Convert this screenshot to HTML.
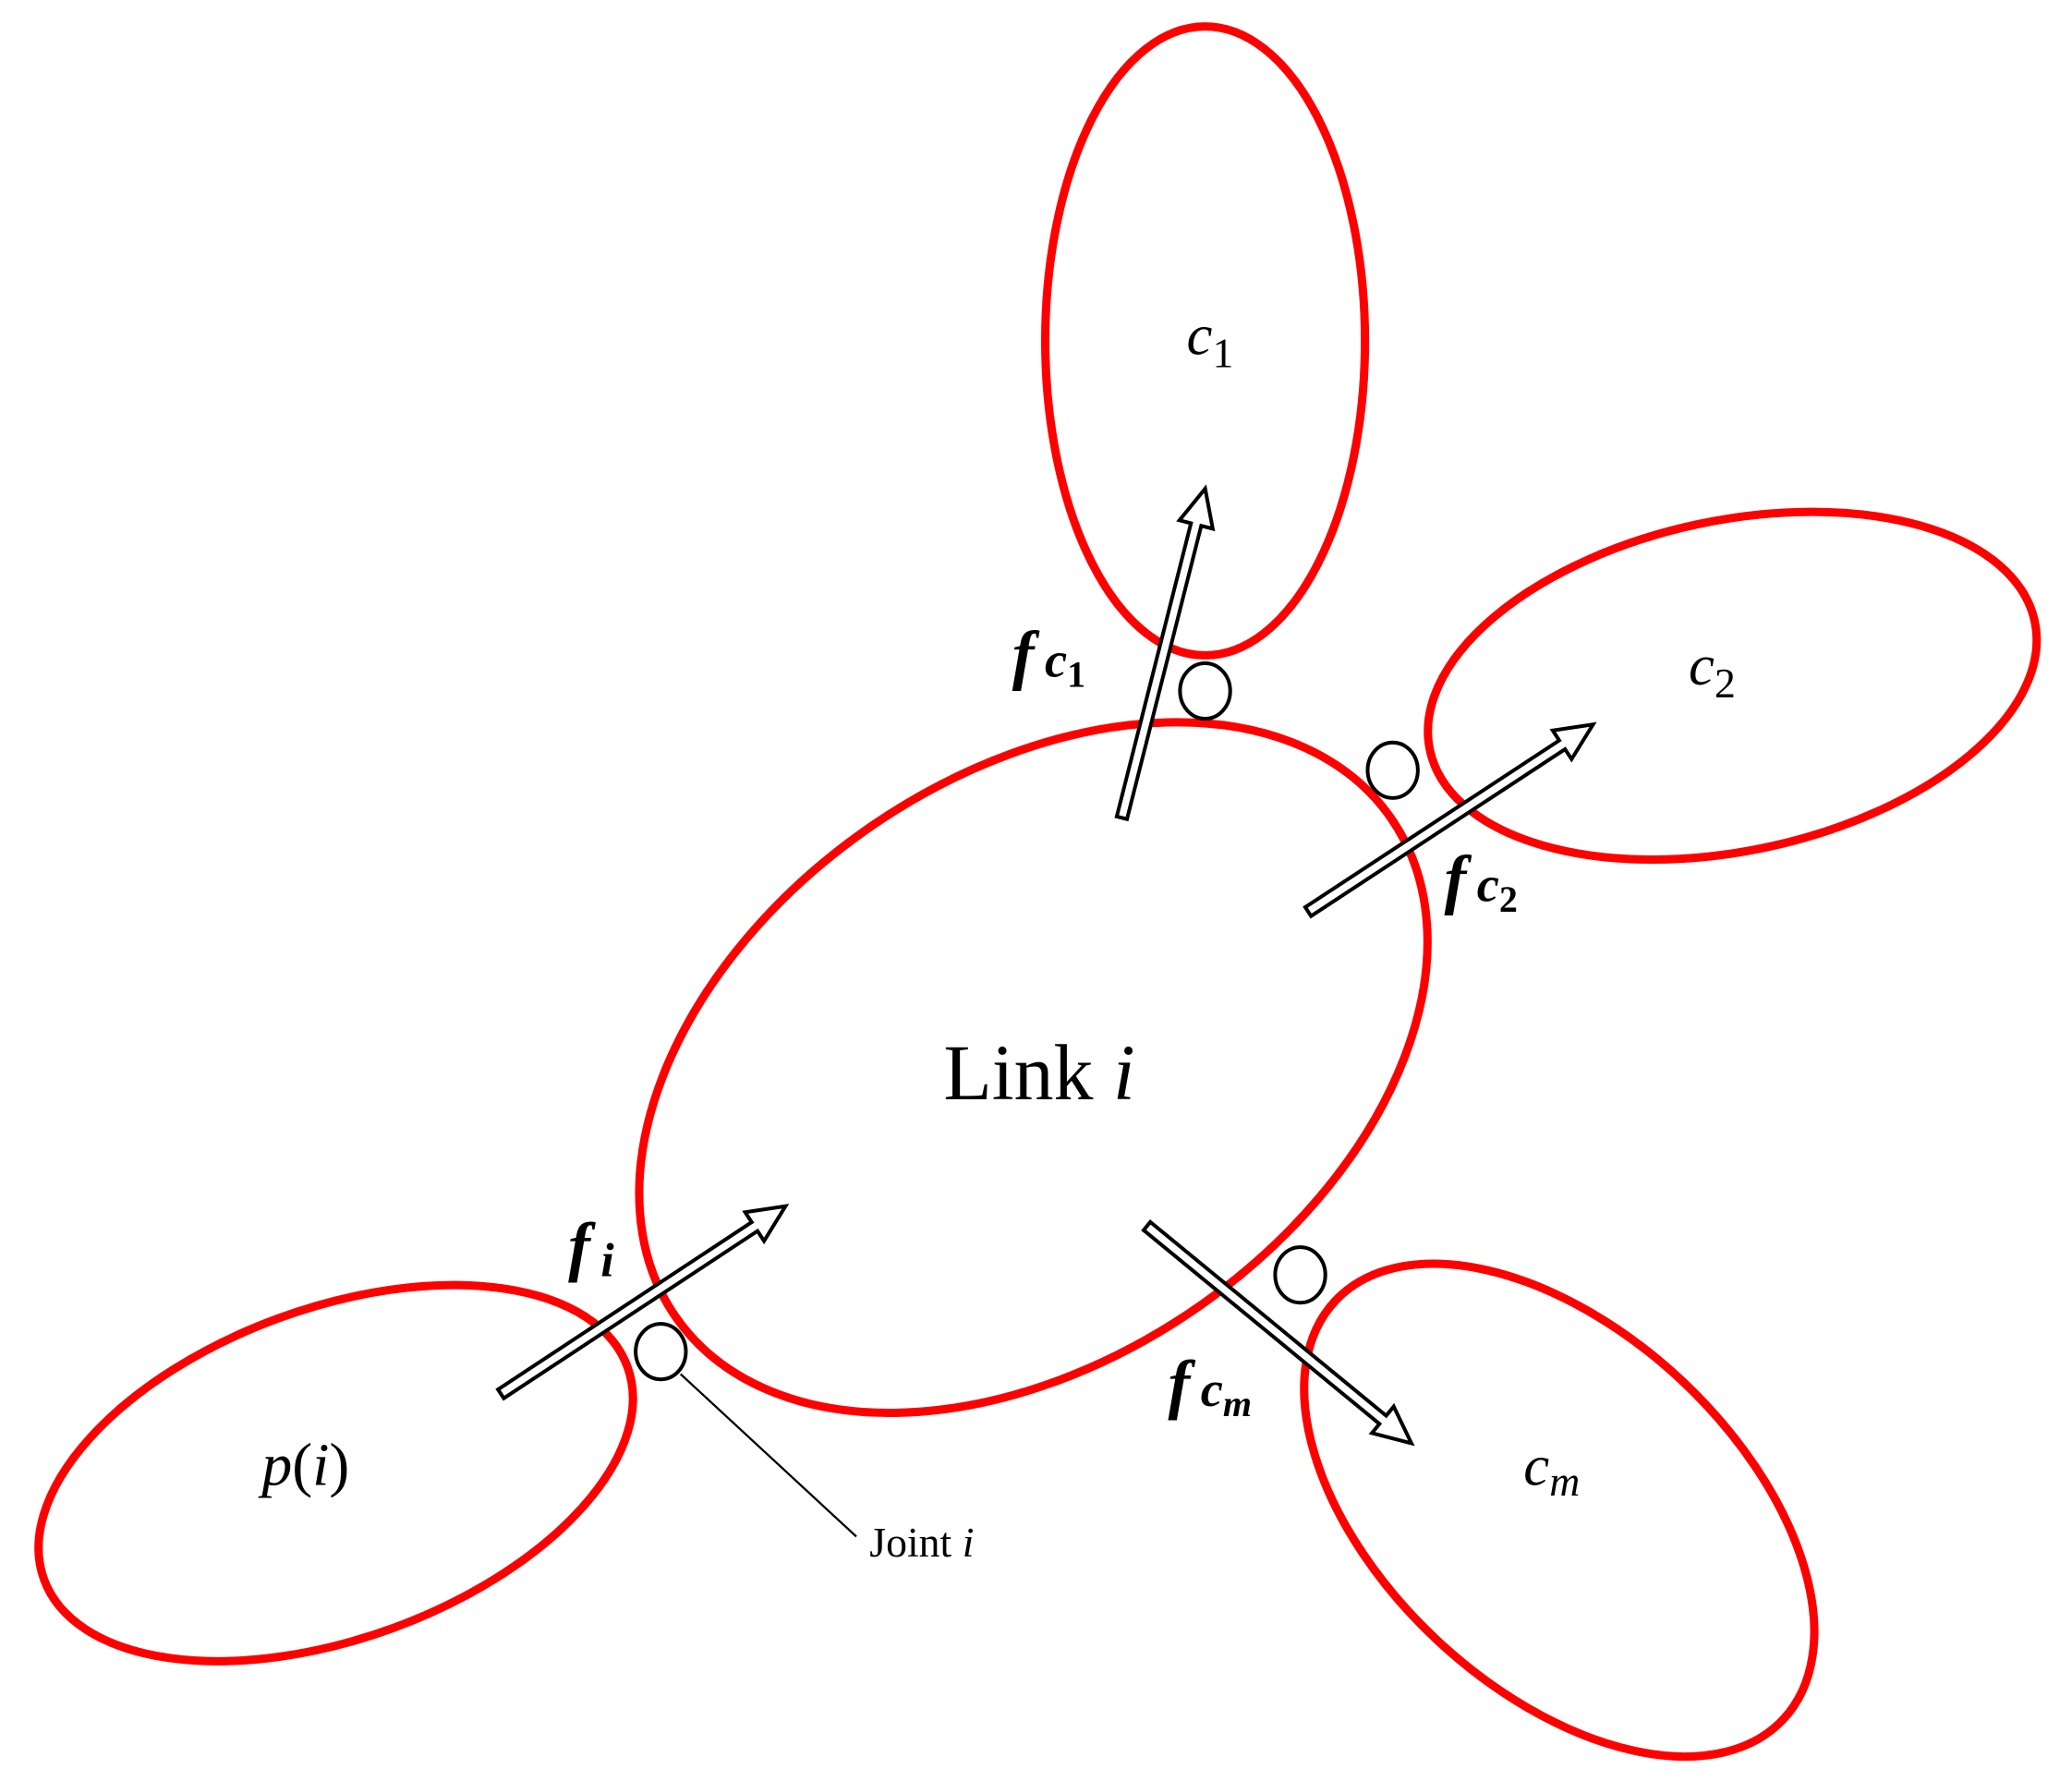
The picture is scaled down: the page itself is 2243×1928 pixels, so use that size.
<!DOCTYPE html>
<html><head><meta charset="utf-8"><style>
html,body{margin:0;padding:0;background:#fff;}
svg{display:block;}
text{font-family:"Liberation Serif","DejaVu Serif",serif;}
</style></head><body>
<svg width="2243" height="1928" viewBox="0 0 1568 1348" xmlns="http://www.w3.org/2000/svg">
<rect width="1568" height="1348" fill="#fff"/>
<g fill="none" stroke="#ff0000" stroke-width="6.3">
<ellipse cx="912" cy="258" rx="121" ry="238"/>
<ellipse cx="1311" cy="519" rx="234" ry="125" transform="rotate(-12 1311 519)"/>
<ellipse cx="782" cy="808" rx="330" ry="220" transform="rotate(-35 782 808)"/>
<ellipse cx="254" cy="1115" rx="235" ry="125" transform="rotate(-20 254 1115)"/>
<ellipse cx="1180" cy="1143" rx="232" ry="135" transform="rotate(43 1180 1143)"/>
</g>
<g fill="#fff" stroke="#000" stroke-width="2.8">
<ellipse cx="912" cy="523" rx="19" ry="21"/>
<ellipse cx="1054" cy="583" rx="19" ry="21"/>
<ellipse cx="500" cy="1023" rx="19" ry="21"/>
<ellipse cx="984" cy="965" rx="19" ry="21"/>
</g>
<g fill="#fff" stroke="#000" stroke-width="2.8" stroke-linejoin="miter">
<polygon points="0,-4 229,-4 229,-13 257,0 229,13 229,4 0,4" transform="translate(849 619) rotate(-75.8)"/>
<polygon points="0,-4 230,-4 230,-13 258,0 230,13 230,4 0,4" transform="translate(990 690) rotate(-33.3)"/>
<polygon points="0,-4 230,-4 230,-13 258,0 230,13 230,4 0,4" transform="translate(379 1055) rotate(-33.4)"/>
<polygon points="0,-4 231,-4 231,-13 259,0 231,13 231,4 0,4" transform="translate(868 928) rotate(39.4)"/>
</g>
<line x1="515" y1="1040" x2="648" y2="1163" stroke="#000" stroke-width="1.6"/>
<text x="658" y="1178" font-size="32">Joint <tspan font-style="italic">i</tspan></text>
<text x="714" y="832" font-size="60">Link <tspan font-style="italic">i</tspan></text>
<text x="898" y="268" font-size="44" font-style="italic">c<tspan font-size="32" font-style="normal" dy="10">1</tspan></text>
<text x="1278" y="518" font-size="44" font-style="italic">c<tspan font-size="32" font-style="normal" dy="10">2</tspan></text>
<text x="1153" y="1124" font-size="44" font-style="italic">c<tspan font-size="32" dy="8">m</tspan></text>
<text x="198" y="1124" font-size="46" font-style="italic">p<tspan font-style="normal">(</tspan>i<tspan font-style="normal">)</tspan></text>
<g font-weight="bold" font-style="italic">
<text x="766" y="512" font-size="50">f<tspan font-size="38" dx="8">c</tspan><tspan font-size="28" dy="8" font-style="normal">1</tspan></text>
<text x="1093" y="682" font-size="50">f<tspan font-size="38" dx="8">c</tspan><tspan font-size="28" dy="8" font-style="normal">2</tspan></text>
<text x="430" y="960" font-size="50">f<tspan font-size="36" dx="8" dy="6">i</tspan></text>
<text x="884" y="1064" font-size="50">f<tspan font-size="38" dx="8">c</tspan><tspan font-size="28" dy="8">m</tspan></text>
</g>
</svg>
</body></html>
